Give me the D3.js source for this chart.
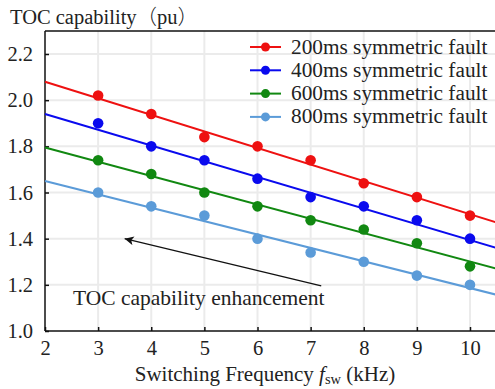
<!DOCTYPE html>
<html><head><meta charset="utf-8">
<script src="https://cdn.jsdelivr.net/npm/d3@7"></script>
</head><body style="margin:0;background:#fff"><svg id="c" width="495" height="389" style="display:block"></svg>
<script>
const freqs = [3,4,5,6,7,8,9,10];
const seriesNames = ["200ms symmetric fault","400ms symmetric fault","600ms symmetric fault","800ms symmetric fault"];
const colors = ["#ee1111","#0a0aee","#118811","#5b9bd8"];
const s200 = [2.02,1.94,1.84,1.80,1.74,1.64,1.58,1.50];
const s400 = [1.90,1.80,1.74,1.66,1.58,1.54,1.48,1.40];
const s600 = [1.74,1.68,1.60,1.54,1.48,1.44,1.38,1.28];
const s800 = [1.60,1.54,1.50,1.40,1.34,1.30,1.24,1.20];
const fitX = [2, 10.5];
const fit200 = [2.08, 1.47];
const fit400 = [1.94, 1.36];
const fit600 = [1.795, 1.27];
const fit800 = [1.65, 1.157];
const xTicks = [2,3,4,5,6,7,8,9,10];
const yTicks = [1.0,1.2,1.4,1.6,1.8,2.0,2.2];
const arrowFrom = [7.2, 1.195];
const arrowTo = [3.5, 1.40];

const FONT = "'Liberation Serif', 'Times New Roman', Tinos, serif", TXT = "#222";
const series = [s200,s400,s600,s800];
const fits = [fit200,fit400,fit600,fit800];
const svg = d3.select("#c");
const x = d3.scaleLinear().domain([2,10]).range([45,470]);
const y = d3.scaleLinear().domain([1.0,2.2]).range([331,54]);
const yTop = y(2.3), xRight = 495;

function st(sel, size){ return sel.style("font-family",FONT).style("font-size",size+"px").style("fill",TXT); }

// grid
svg.append("g").selectAll("line").data(xTicks.slice(1)).join("line")
  .attr("x1",d=>x(d)).attr("x2",d=>x(d)).attr("y1",yTop).attr("y2",y(1.0))
  .attr("stroke","#ebebeb").attr("stroke-width",2);
svg.append("g").selectAll("line").data(yTicks.slice(1)).join("line")
  .attr("x1",x(2)).attr("x2",xRight).attr("y1",d=>y(d)).attr("y2",d=>y(d))
  .attr("stroke","#ebebeb").attr("stroke-width",2);

// axes
const xAxis = svg.append("g").attr("transform",`translate(0,${y(1.0)})`)
  .call(d3.axisBottom(x).tickValues(xTicks).tickFormat(d3.format("d")).tickSizeInner(-4).tickSizeOuter(0).tickPadding(9));
xAxis.attr("font-family",null).attr("font-size",null);
xAxis.select(".domain").attr("d",`M${x(2)},0H${xRight}`).attr("stroke","#111").attr("stroke-width",1.5);
xAxis.selectAll(".tick line").attr("stroke","#111").attr("stroke-width",1.5);
st(xAxis.selectAll(".tick text"),20.5);

const yAxis = svg.append("g").attr("transform",`translate(${x(2)},0)`)
  .call(d3.axisLeft(y).tickValues(yTicks).tickFormat(d3.format(".1f")).tickSizeInner(-4).tickSizeOuter(0).tickPadding(12));
yAxis.attr("font-family",null).attr("font-size",null);
yAxis.select(".domain").attr("d",`M0,${yTop}V${y(1.0)}`).attr("stroke","#111").attr("stroke-width",1.5);
yAxis.selectAll(".tick line").attr("stroke","#111").attr("stroke-width",1.5);
st(yAxis.selectAll(".tick text"),20.5);

svg.append("line").attr("x1",x(2)).attr("x2",xRight).attr("y1",yTop).attr("y2",yTop).attr("stroke","#111").attr("stroke-width",1.5);

// fit lines
fits.forEach((f,i)=>{
  svg.append("line").attr("x1",x(fitX[0])).attr("y1",y(f[0])).attr("x2",x(fitX[1])).attr("y2",y(f[1]))
    .attr("stroke",colors[i]).attr("stroke-width",2);
});
// points
series.forEach((s,i)=>{
  svg.append("g").selectAll("circle").data(s).join("circle")
    .attr("cx",(d,j)=>x(freqs[j])).attr("cy",d=>y(d)).attr("r",5.3).attr("fill",colors[i]);
});

// arrow
svg.append("defs").append("marker").attr("id","ah").attr("viewBox","0 0 10 10").attr("refX",10).attr("refY",5)
  .attr("markerWidth",10).attr("markerHeight",9).attr("markerUnits","userSpaceOnUse").attr("orient","auto")
  .append("path").attr("d","M0,0L10,5L0,10L2.5,5Z").attr("fill","#111");
svg.append("line").attr("x1",x(arrowFrom[0])).attr("y1",y(arrowFrom[1])).attr("x2",x(arrowTo[0])).attr("y2",y(arrowTo[1]))
  .attr("stroke","#111").attr("stroke-width",1.3).attr("marker-end","url(#ah)");
st(svg.append("text").attr("x",73).attr("y",305),21.5).text("TOC capability enhancement");

// legend
seriesNames.forEach((n,i)=>{
  const yy = 47 + i*23.3;
  svg.append("line").attr("x1",250).attr("x2",281).attr("y1",yy).attr("y2",yy).attr("stroke",colors[i]).attr("stroke-width",2);
  svg.append("circle").attr("cx",265.5).attr("cy",yy).attr("r",4.5).attr("fill",colors[i]);
  st(svg.append("text").attr("x",291).attr("y",yy+6.5),21.3).text(n);
});

// titles
const tt = st(svg.append("text").attr("x",10).attr("y",24),20.5);
tt.append("tspan").text("TOC capability");
tt.append("tspan").style("font-family","'Noto Sans CJK SC'").style("font-weight",300).text("（");
tt.append("tspan").text("pu");
tt.append("tspan").style("font-family","'Noto Sans CJK SC'").style("font-weight",300).text("）");
const xt = st(svg.append("text").attr("x",265).attr("y",381).attr("text-anchor","middle"),21);
xt.append("tspan").text("Switching Frequency ");
xt.append("tspan").style("font-style","italic").text("f");
xt.append("tspan").style("font-size","14.5px").attr("dy",3).text("sw");
xt.append("tspan").attr("dy",-3).text(" (kHz)");
</script></body></html>
